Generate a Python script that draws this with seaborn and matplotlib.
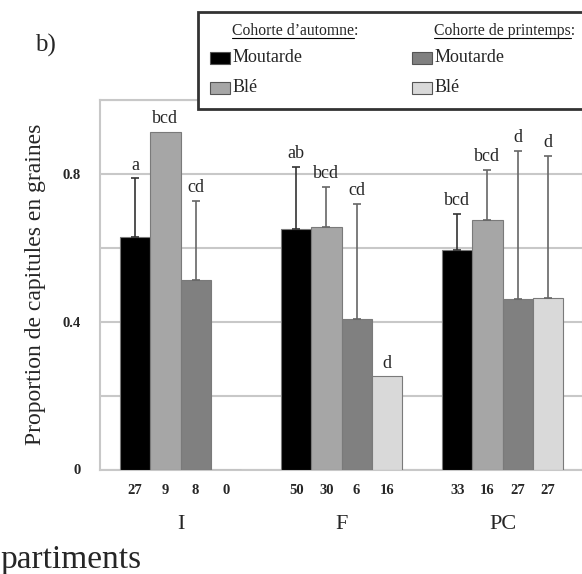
import seaborn as sns
import matplotlib.pyplot as plt
import matplotlib.patches as mpatches
import numpy as np
import pandas as pd

# data
compartments = ["I", "F", "PC"]
groups = ["Automne Moutarde", "Automne Blé", "Printemps Moutarde", "Printemps Blé"]
proportion = {
    "Automne Moutarde": [0.629, 0.651, 0.594],
    "Automne Blé": [0.914, 0.656, 0.675],
    "Printemps Moutarde": [0.513, 0.406, 0.461],
    "Printemps Blé": [0.0, 0.252, 0.463],
}
err_upper = {
    "Automne Moutarde": [0.160, 0.168, 0.098],
    "Automne Blé": [np.nan, 0.109, 0.136],
    "Printemps Moutarde": [0.214, 0.313, 0.402],
    "Printemps Blé": [np.nan, np.nan, 0.386],
}
letters = {
    "Automne Moutarde": ["a", "ab", "bcd"],
    "Automne Blé": ["bcd", "bcd", "bcd"],
    "Printemps Moutarde": ["cd", "cd", "d"],
    "Printemps Blé": ["", "d", "d"],
}
counts = {
    "Automne Moutarde": [27, 50, 33],
    "Automne Blé": [9, 30, 16],
    "Printemps Moutarde": [8, 6, 27],
    "Printemps Blé": [0, 16, 27],
}
colors = ["#000000", "#a6a6a6", "#808080", "#d9d9d9"]

rows = []
for g in groups:
    for i, c in enumerate(compartments):
        rows.append({"comp": c, "groupe": g, "prop": proportion[g][i]})
df = pd.DataFrame(rows)

sns.set_style("white")
plt.rcParams["font.family"] = ["Liberation Serif", "DejaVu Serif"]

W, H = 582, 574
fig = plt.figure(figsize=(W / 100, H / 100), dpi=100)
ax = fig.add_axes([100 / W, 1 - 469.5 / H, 483 / W, 369.5 / H])

sns.barplot(data=df, x="comp", y="prop", hue="groupe", order=compartments,
            hue_order=groups, palette=colors, width=0.75, edgecolor="#7a7a7a",
            linewidth=0.8, legend=False, ax=ax, zorder=3)

for g, cont in zip(groups, ax.containers):
    for i, bar in enumerate(cont):
        xc = bar.get_x() + bar.get_width() / 2
        h = bar.get_height()
        e = err_upper[g][i]
        top = h
        if not np.isnan(e):
            ecol = "#333333" if g == groups[0] else "#666666"
            ax.errorbar(xc, h, yerr=[[0], [e]], fmt="none", ecolor=ecol,
                        elinewidth=1.2, capsize=3, capthick=1.2, zorder=4)
            top = h + e
        if letters[g][i]:
            ax.text(xc, top + 0.012, letters[g][i], ha="center", va="bottom",
                    fontsize=13, zorder=5)
        ax.text(xc, -0.057, str(counts[g][i]), ha="center", va="center",
                fontsize=10.5, fontweight="bold", transform=ax.get_xaxis_transform())

ax.set_ylim(0, 1.0)
ax.set_xlim(-0.5, 2.5)
ax.set_yticks([0, 0.4, 0.8])
ax.set_yticklabels(["0", "0.4", "0.8"], fontsize=10.5, fontweight="bold")
ax.set_yticks([0.2, 0.6, 1.0], minor=True)
ax.grid(axis="y", which="both", color="#c8c8c8", linewidth=1.5, zorder=0)
ax.set_axisbelow(True)
ax.tick_params(axis="y", which="both", length=0, pad=14)

ax.set_xticks(range(len(compartments)))
ax.set_xticklabels(compartments, fontsize=16)
ax.tick_params(axis="x", which="major", length=0, pad=33)
ax.set_xticks([0.5, 1.5], minor=True)
ax.tick_params(axis="x", which="minor", length=4, color="#c8c8c8")

for s in ax.spines.values():
    s.set_color("#c8c8c8")
    s.set_linewidth(1.5)

ax.set_xlabel("")
ax.set_ylabel("Proportion de capitules en graines", fontsize=17, labelpad=12)

fig.text(0, 1 - 560 / H, "partiments", ha="left", va="center", fontsize=24)
fig.text(35 / W, 1 - 45 / H, "b)", ha="left", va="center", fontsize=18)

# legend box drawn by hand
def fx(x):
    return x / W

def fy(y):
    return 1 - y / H

fig.patches.append(mpatches.Rectangle((fx(198), fy(109)), fx(600) - fx(198), fy(12) - fy(109),
                                      transform=fig.transFigure, facecolor="white",
                                      edgecolor="#333333", linewidth=2, zorder=10))
titles = ["Cohorte d\u2019automne:", "Cohorte de printemps:"]
crops = ["Moutarde", "Blé"]
col_x = [210, 412]
for k, (title, x0) in enumerate(zip(titles, col_x)):
    t = fig.text(fx(x0 + 22), fy(31), title, ha="left", va="center", fontsize=11.3,
                 zorder=11)
    fig.canvas.draw()
    bb = t.get_window_extent()
    fig.add_artist(plt.Line2D([bb.x0 / W, (bb.x1 - 4) / W], [fy(38), fy(38)],
                              transform=fig.transFigure, color="black", linewidth=0.8, zorder=11))
    for j, crop in enumerate(crops):
        y = 58 + 30 * j
        fig.patches.append(mpatches.Rectangle((fx(x0), fy(y + 6)), fx(20), fy(y - 6) - fy(y + 6),
                                              transform=fig.transFigure, facecolor=colors[2 * k + j],
                                              edgecolor="#555555", linewidth=0.8, zorder=11))
        fig.text(fx(x0 + 23), fy(y), crop, ha="left", va="center", fontsize=13, zorder=11)

fig.savefig("out.png", dpi=100)
